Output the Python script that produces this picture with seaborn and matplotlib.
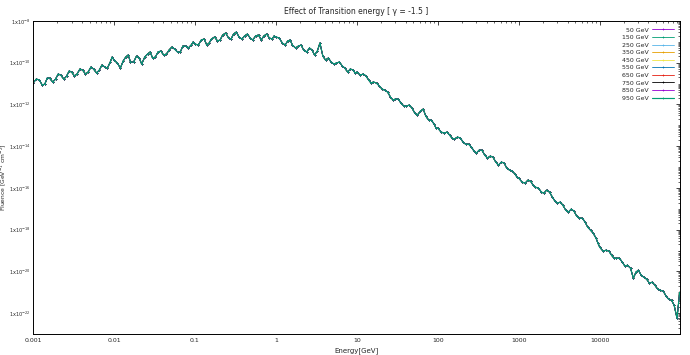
import numpy as np
import pandas as pd
import matplotlib
matplotlib.use("Agg")
import matplotlib.pyplot as plt
import matplotlib.ticker as mticker
import seaborn as sns

########################## data ##########################
energy = [0.001, 0.0011, 0.0012, 0.0013, 0.0014, 0.0015, 0.0016, 0.00175, 0.0019, 0.00205, 0.0022, 0.0024, 0.0026, 0.0028, 0.003,
          0.00325, 0.0035, 0.0038, 0.0041, 0.00445, 0.0048, 0.0052, 0.0056, 0.0061, 0.0066, 0.0071, 0.0077, 0.0083, 0.009, 0.0095,
          0.01, 0.011, 0.012, 0.013, 0.014, 0.015, 0.016, 0.0175, 0.019, 0.0205, 0.022, 0.024, 0.026, 0.028, 0.03,
          0.0325, 0.035, 0.038, 0.041, 0.0445, 0.048, 0.052, 0.056, 0.061, 0.066, 0.071, 0.077, 0.083, 0.09, 0.095,
          0.1, 0.11, 0.12, 0.13, 0.14, 0.15, 0.16, 0.175, 0.19, 0.205, 0.22, 0.24, 0.26, 0.28, 0.3,
          0.325, 0.35, 0.38, 0.41, 0.445, 0.48, 0.52, 0.56, 0.61, 0.66, 0.71, 0.77, 0.83, 0.9, 0.95,
          1.0, 1.1, 1.2, 1.3, 1.4, 1.5, 1.6, 1.75, 1.9, 2.05, 2.2, 2.4, 2.6, 2.8, 3.0,
          3.25, 3.5, 3.8, 4.1, 4.45, 4.8, 5.2, 5.6, 6.1, 6.6, 7.1, 7.7, 8.3, 9.0, 9.5,
          10, 11, 12, 13, 14, 15, 16, 17.5, 19, 20.5, 22, 24, 26, 28, 30,
          32.5, 35, 38, 41, 44.5, 48, 52, 56, 61, 66, 71, 77, 83, 90, 95,
          100, 110, 120, 130, 140, 150, 160, 175, 190, 205, 220, 240, 260, 280, 300,
          325, 350, 380, 410, 445, 480, 520, 560, 610, 660, 710, 770, 830, 900, 950,
          1000, 1100, 1200, 1300, 1400, 1500, 1600, 1750, 1900, 2050, 2200, 2400, 2600, 2800, 3000,
          3250, 3500, 3800, 4100, 4450, 4800, 5200, 5600, 6100, 6600, 7100, 7700, 8300, 9000, 9500,
          10000, 11000, 12000, 13000, 14000, 15000, 16000, 17500, 19000, 20500, 22000, 24000, 26000, 28000, 30000,
          32500, 35000, 38000, 41000, 44500, 48000, 52000, 56000, 61000, 66000, 71000, 77000, 83000, 90000, 97000]

fluence = [1.06e-11, 1.65e-11, 1.48e-11, 8.53e-12, 9.5e-12, 1.85e-11, 1.85e-11, 1.19e-11, 1.65e-11, 2.87e-11, 2.57e-11, 1.65e-11, 2.30e-11, 4.00e-11, 3.58e-11,
           2.30e-11, 2.87e-11, 4.99e-11, 4.47e-11, 2.87e-11, 3.58e-11, 6.22e-11, 4.99e-11, 3.21e-11, 4.47e-11, 7.76e-11, 6.22e-11, 5.57e-11, 1.08e-10, 1.88e-10,
           1.35e-10, 9.68e-11, 5.57e-11, 1.21e-10, 1.88e-10, 2.34e-10, 1.08e-10, 1.08e-10, 2.09e-10, 1.68e-10, 8.67e-11, 1.88e-10, 2.61e-10, 3.26e-10, 1.68e-10,
           1.88e-10, 3.26e-10, 3.64e-10, 2.34e-10, 2.61e-10, 4.06e-10, 5.66e-10, 4.54e-10, 3.26e-10, 3.26e-10, 6.32e-10, 6.32e-10, 5.07e-10, 7.06e-10, 9.84e-10,
           7.89e-10, 7.06e-10, 1.23e-9, 1.37e-9, 7.06e-10, 8.81e-10, 1.37e-9, 1.71e-9, 1.10e-9, 1.23e-9, 2.13e-9, 2.66e-9, 1.53e-9, 1.37e-9, 2.38e-9,
           2.96e-9, 1.71e-9, 1.37e-9, 1.91e-9, 2.38e-9, 1.53e-9, 1.23e-9, 1.91e-9, 2.13e-9, 1.23e-9, 1.91e-9, 2.38e-9, 1.53e-9, 1.37e-9, 1.91e-9,
           1.71e-9, 1.53e-9, 8.81e-10, 7.06e-10, 1.10e-9, 1.23e-9, 7.06e-10, 5.07e-10, 6.32e-10, 7.06e-10, 4.06e-10, 3.26e-10, 5.07e-10, 4.06e-10, 2.34e-10,
           3.64e-10, 8.81e-10, 2.09e-10, 1.35e-10, 1.68e-10, 1.08e-10, 8.67e-11, 9.68e-11, 1.08e-10, 6.95e-11, 5.57e-11, 3.58e-11, 4.99e-11, 4.47e-11, 3.21e-11,
           3.58e-11, 2.57e-11, 2.87e-11, 2.30e-11, 1.48e-11, 1.06e-11, 1.19e-11, 1.06e-11, 7.62e-12, 5.48e-12, 4.91e-12, 3.94e-12, 2.26e-12, 1.63e-12, 1.82e-12,
           1.82e-12, 1.17e-12, 8.38e-13, 8.38e-13, 9.36e-13, 6.71e-13, 3.87e-13, 3.10e-13, 4.83e-13, 6.01e-13, 2.78e-13, 1.79e-13, 1.79e-13, 1.15e-13, 7.38e-14,
           7.38e-14, 4.74e-14, 4.25e-14, 4.74e-14, 3.40e-14, 2.44e-14, 2.19e-14, 2.73e-14, 2.44e-14, 1.57e-14, 1.26e-14, 1.26e-14, 9.06e-15, 5.82e-15, 4.67e-15,
           6.50e-15, 6.50e-15, 3.74e-15, 2.69e-15, 3.35e-15, 3.00e-15, 1.73e-15, 1.24e-15, 1.73e-15, 1.55e-15, 8.91e-16, 7.14e-16, 6.40e-16, 4.59e-16, 3.30e-16,
           2.95e-16, 1.90e-16, 1.70e-16, 2.37e-16, 2.12e-16, 1.36e-16, 1.09e-16, 9.79e-17, 6.29e-17, 5.64e-17, 7.83e-17, 6.29e-17, 3.62e-17, 2.33e-17, 1.87e-17,
           2.08e-17, 1.50e-17, 8.63e-18, 6.90e-18, 9.64e-18, 7.71e-18, 4.45e-18, 3.56e-18, 3.56e-18, 2.29e-18, 1.32e-18, 9.46e-19, 6.79e-19, 3.91e-19, 2.25e-19,
           1.45e-19, 9.31e-20, 1.04e-19, 9.31e-20, 5.98e-20, 4.30e-20, 4.30e-20, 4.30e-20, 2.76e-20, 1.78e-20, 1.98e-20, 1.43e-20, 4.72e-21, 9.16e-21, 1.14e-20,
           6.58e-21, 5.27e-21, 4.23e-21, 2.72e-21, 3.03e-21, 2.18e-21, 1.40e-21, 1.25e-21, 1.12e-21, 6.47e-22, 4.65e-22, 4.16e-22, 2.39e-22, 5.69e-23, 1.00e-21]

series = ["50 GeV", "150 GeV", "250 GeV", "350 GeV", "450 GeV",
          "550 GeV", "650 GeV", "750 GeV", "850 GeV", "950 GeV"]
colors = ["#9400d3", "#009e73", "#56b4e9", "#e69f00", "#f0e442",
          "#0072b2", "#e51e10", "#000000", "#9400d3", "#009e73"]

xticks = [0.001, 0.01, 0.1, 1, 10, 100, 1000, 10000]
xticklabels = ["0.001", "0.01", "0.1", "1", "10", "100", "1000", "10000"]
yexps = [-8, -10, -12, -14, -16, -18, -20, -22]

############################ plot ############################
sns.set_style("white")
plt.rcParams['font.family'] = ['DejaVu Sans']

fig = plt.figure(figsize=(6.9, 3.55), dpi=100)
ax = fig.add_axes([33 / 690, 1 - 334 / 355, 647 / 690, 313 / 355])

df = pd.DataFrame({"Energy": energy, "Fluence": fluence})
for i, (name, col) in enumerate(zip(series, colors)):
    # seaborn gives markers a white edge by default, which cuts "+" out of the line
    lw = 0.85 if i == len(series) - 1 else 0.6
    sns.lineplot(data=df, x="Energy", y="Fluence", ax=ax, color=col, label=name,
                 marker="+", markersize=1.6, markeredgewidth=0.5, markeredgecolor=col,
                 linewidth=lw, estimator=None, sort=False)

ax.set_xscale("log")
ax.set_yscale("log")
ax.set_xlim(0.001, 98000)
ax.set_ylim(1e-23, 1e-8)

ax.set_xticks(xticks)
ax.set_xticklabels(xticklabels)
ax.xaxis.set_minor_locator(mticker.LogLocator(base=10, subs=np.arange(2, 10)))
ax.xaxis.set_minor_formatter(mticker.NullFormatter())

ax.set_yticks([10.0 ** e for e in yexps])
ax.set_yticklabels([r"1x10$^{%d}$" % e for e in yexps])
ax.yaxis.set_minor_locator(mticker.LogLocator(base=10, subs=np.arange(1, 10), numticks=40))
ax.yaxis.set_minor_formatter(mticker.NullFormatter())

ax.tick_params(which="both", direction="in", top=True, right=True)
ax.tick_params(axis="x", labelsize=4.5, pad=3)
ax.tick_params(axis="y", labelsize=3.6, pad=1.5)
ax.tick_params(which="major", length=3, width=0.6)
ax.tick_params(which="minor", length=1.5, width=0.5)
for s in ax.spines.values():
    s.set_linewidth(0.7)
    s.set_color("black")

ax.set_xlabel("Energy[GeV]", fontsize=5, labelpad=3)
ax.set_ylabel(r"Fluence [GeV$^{-1}$ cm$^{-2}$]", fontsize=4.3)
ax.yaxis.set_label_coords(-0.038, 0.5)
ax.set_title("Effect of Transition energy [ \u03b3 = -1.5 ]", fontsize=5.5, pad=5)

ax.legend(loc="upper right", frameon=False, fontsize=4.5, markerfirst=False,
          handlelength=3.5, labelspacing=0.35, borderaxespad=0.6, handletextpad=0.5)

plt.savefig("out.png", dpi=100)
